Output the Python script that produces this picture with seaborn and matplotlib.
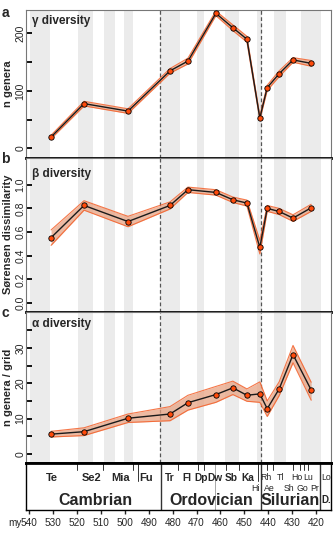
import matplotlib
matplotlib.use("Agg")
import matplotlib.pyplot as plt
import seaborn as sns
import numpy as np
import pandas as pd
from matplotlib import font_manager

sns.set_style("white")
plt.rcParams['font.family'] = ['Liberation Sans', 'DejaVu Sans']

_names = {f.name for f in font_manager.fontManager.ttflist}
NARROW = 'Liberation Sans Narrow' if 'Liberation Sans Narrow' in _names else 'Liberation Sans'

# ---------------- data ----------------
bin_age = [530.9, 517.1, 498.7, 481.1, 473.6, 461.9, 454.8, 448.9, 443.5, 440.4, 435.4, 429.6, 422.0]

gamma = [20, 78, 65, 135, 152, 235, 210, 190, 53, 106, 130, 154, 148]
gamma_lo = [17, 74, 61, 131, 147, 231, 205, 185, 50, 101, 125, 150, 143]
gamma_hi = [23, 82, 69, 139, 157, 239, 215, 195, 57, 110, 135, 158, 153]

beta = [0.553, 0.825, 0.689, 0.825, 0.958, 0.935, 0.873, 0.845, 0.471, 0.800, 0.774, 0.718, 0.805]
beta_lo = [0.488, 0.785, 0.645, 0.795, 0.935, 0.912, 0.850, 0.820, 0.415, 0.775, 0.748, 0.690, 0.775]
beta_hi = [0.618, 0.865, 0.733, 0.855, 0.980, 0.958, 0.896, 0.870, 0.530, 0.825, 0.800, 0.746, 0.835]

alpha = [5.6, 6.3, 10.1, 11.3, 14.5, 16.8, 18.7, 16.6, 17.0, 12.8, 18.4, 28.1, 18.1]
alpha_lo = [4.8, 5.2, 8.9, 9.4, 12.4, 14.6, 16.8, 14.9, 14.6, 10.6, 16.5, 25.8, 15.2]
alpha_hi = [6.4, 7.4, 11.3, 13.4, 16.6, 19.1, 20.6, 18.4, 20.4, 15.0, 20.4, 30.7, 20.3]

# grey stage bands (my)
band_start = [539.7, 519.8, 508.7, 500.4, 485.3, 470.0, 458.1, 444.8, 437.4, 426.3]
band_end = [531.3, 513.5, 504.1, 496.7, 476.9, 466.9, 452.3, 442.6, 432.5, 417.9]

# major boundaries (my)
dashed_bounds = [485.4, 443.0]
period_bounds = [485.0, 443.1, 418.4]
minor_line = [462.3]
short_ticks = [519.9, 509.0, 496.5, 477.6, 469.5, 466.7, 457.8, 452.2, 440.4, 437.9, 429.5, 426.7, 425.0, 423.2]
long_ticks = [494.4, 444.4]

# time-scale labels
camb_labels = ["Te", "Se2", "Mia", "Fu"]
camb_ages = [530.6, 513.9, 502.0, 491.2]
ord_labels = ["Tr", "Fl", "Dp", "Dw", "Sb", "Ka"]
ord_ages = [481.1, 474.1, 467.9, 462.4, 455.3, 448.6]
sil_row1_labels = ["Rh", "Tl", "Ho", "Lu", "Lo"]
sil_row1_ages = [440.9, 434.8, 428.1, 423.2, 415.8]
row2_labels = ["Hi", "Ae", "Sh", "Go", "Pr"]
row2_ages = [445.2, 439.5, 431.3, 425.7, 420.7]
period_labels = ["Cambrian", "Ordovician", "Silurian", "D."]
period_ages = [512.5, 463.7, 430.6, 415.8]

xticks = [540, 530, 520, 510, 500, 490, 480, 470, 460, 450, 440, 430, 420]

# ---------------- layout ----------------
W, H = 333, 534
fig = plt.figure(figsize=(W / 100, H / 100), dpi=100)
XL, XR = 26, 331
XLIM = (541.4, 413.7)


def rect(top, bottom):
    return [XL / W, 1 - bottom / H, (XR - XL) / W, (bottom - top) / H]


ax_a = fig.add_axes(rect(10, 157.5))
ax_b = fig.add_axes(rect(157.5, 311.5))
ax_c = fig.add_axes(rect(311.5, 463))
ax_t = fig.add_axes(rect(463, 510))

panels = [
    (ax_a, gamma, gamma_lo, gamma_hi, (-15.7, 240.8), [0, 50, 100, 150, 200], ["0", "", "100", "", "200"],
     "n genera", "γ diversity", 0.927),
    (ax_b, beta, beta_lo, beta_hi, (-0.071, 1.23), [0, 0.2, 0.4, 0.6, 0.8, 1.0],
     ["0.0", "0.2", "0.4", "0.6", "0.8", "1.0"], "Sørensen dissimilarity", "β diversity", 0.895),
    (ax_c, alpha, alpha_lo, alpha_hi, (-2.56, 40.3), [0, 5, 10, 15, 20, 25, 30, 35],
     ["0", "", "10", "", "20", "", "30", ""], "n genera / grid", "α diversity", 0.92),
]

for ax, y, lo, hi, ylim, yt, ytl, ylab, title, ty in panels:
    df = pd.DataFrame({"age": bin_age, "val": y})
    for s, e in zip(band_start, band_end):
        ax.axvspan(s, e, color="#EBEBEB", lw=0, zorder=0)
    for b in dashed_bounds:
        ax.axvline(b, color="#555555", lw=0.9, ls=(0, (3, 2)), zorder=1)
    ax.fill_between(bin_age, lo, hi, color="#E8A383", alpha=0.75, lw=0, zorder=2)
    ax.plot(bin_age, lo, color="#F4602A", lw=0.8, alpha=0.85, zorder=2)
    ax.plot(bin_age, hi, color="#F4602A", lw=0.8, alpha=0.85, zorder=2)
    sns.lineplot(data=df, x="age", y="val", ax=ax, color="#1a1a1a", lw=1.0, zorder=3, estimator=None,
                 sort=False)
    sns.scatterplot(data=df, x="age", y="val", ax=ax, color="#FF4A0A", edgecolor="black", linewidth=0.6,
                    s=15, zorder=4)
    ax.set_xlim(*XLIM)
    ax.set_ylim(*ylim)
    ax.set_xticks([])
    ax.set_xlabel("")
    ax.set_yticks(yt)
    ax.set_yticklabels(ytl)
    ax.tick_params(axis="y", direction="in", length=4, width=1.3, color="black", pad=0.5, labelsize=7.5,
                   left=True)
    for lab in ax.get_yticklabels():
        lab.set_rotation(90)
        lab.set_va("center")
        lab.set_ha("right")
    ax.set_ylabel(ylab, fontsize=8, fontweight="bold")
    ax.yaxis.set_label_coords(-0.042, 0.5)
    ax.text(0.019, ty, title, transform=ax.transAxes, fontsize=8.5, fontweight="bold", va="center", ha="left")
    for sp in ["left", "right", "top"]:
        ax.spines[sp].set_color("#777777")
        ax.spines[sp].set_linewidth(0.8)
    ax.spines["bottom"].set_color("black")
    ax.spines["bottom"].set_linewidth(2.0)
    ax.spines["bottom"].set_zorder(6)

# ---------------- time scale ----------------
ax_t.set_xlim(*XLIM)
ax_t.set_ylim(0, 1)
ax_t.set_yticks([])
ax_t.set_xticks(xticks)
ax_t.set_xticklabels([str(v) for v in xticks], family=NARROW)
ax_t.tick_params(axis="x", direction="out", length=3, width=1, pad=2.5, labelsize=7.2, bottom=True)
for sp in ["left", "right", "bottom"]:
    ax_t.spines[sp].set_color("black")
    ax_t.spines[sp].set_linewidth(1.0)
ax_t.spines["top"].set_color("black")
ax_t.spines["top"].set_linewidth(2.0)
for b in period_bounds:
    ax_t.axvline(b, color="#333333", lw=1.0)
for b in minor_line:
    ax_t.axvline(b, color="#999999", lw=0.6)
for b in short_ticks:
    ax_t.plot([b, b], [1, 0.85], color="#333333", lw=0.7)
for b in long_ticks:
    ax_t.plot([b, b], [1, 0.62], color="#333333", lw=0.7)

for lab, a in zip(camb_labels, camb_ages):
    ax_t.text(a, 0.69, lab, ha="center", va="center", fontsize=8, fontweight="bold", family=NARROW)
for lab, a in zip(ord_labels, ord_ages):
    ax_t.text(a, 0.69, lab, ha="center", va="center", fontsize=7.3, fontweight="bold", family=NARROW)
for lab, a in zip(sil_row1_labels, sil_row1_ages):
    ax_t.text(a, 0.69, lab, ha="center", va="center", fontsize=6.3, family=NARROW)
for lab, a in zip(row2_labels, row2_ages):
    ax_t.text(a, 0.46, lab, ha="center", va="center", fontsize=6.3, family=NARROW)
for lab, a in zip(period_labels, period_ages):
    fs = 11.5 if lab != "D." else 7
    ax_t.text(a, 0.21, lab, ha="center", va="center", fontsize=fs, fontweight="bold")

fig.text(15 / W, 1 - 523 / H, "my", ha="center", va="center", fontsize=7.2, family=NARROW)

for letter, yy in zip(["a", "b", "c"], [13, 159, 313]):
    fig.text(5 / W, 1 - yy / H, letter, ha="center", va="center", fontsize=10, fontweight="bold")

fig.savefig("out.png", dpi=100)
